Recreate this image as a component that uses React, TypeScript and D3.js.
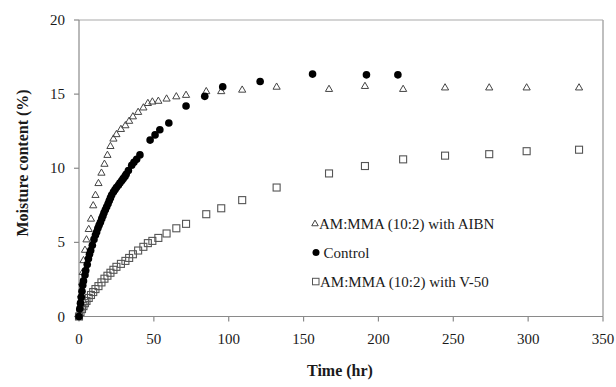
import React from "react";
import * as d3 from "d3";

const xTicks = [0, 50, 100, 150, 200, 250, 300, 350];
const yTicks = [0, 5, 10, 15, 20];

const aibnTime = [0, 1, 1.5, 2, 2.5, 3, 4, 5, 6.5, 8, 9.5, 11, 13, 15, 17, 19, 21, 23, 25, 28, 31, 33.5, 36, 39.5, 43, 46, 49, 53, 58.5, 65, 71.5, 85, 95, 109, 132, 167, 191, 216.5, 244.5, 274, 299, 334];
const aibnValue = [0, 0.8, 1.5, 2.3, 3.0, 3.8, 4.5, 5.2, 5.9, 6.6, 7.5, 8.2, 9.0, 9.7, 10.3, 10.9, 11.5, 12.0, 12.3, 12.65, 12.9, 13.2, 13.5, 13.8, 14.1, 14.4, 14.5, 14.55, 14.7, 14.85, 14.95, 15.2, 15.2, 15.3, 15.5, 15.35, 15.55, 15.35, 15.45, 15.45, 15.45, 15.45];

const controlTime = [0, 0.5, 1, 1.5, 2, 2.5, 3, 4, 4.5, 5.5, 6.3, 7, 7.8, 8.9, 10, 11, 11.8, 12.6, 13.4, 14.3, 15.2, 16, 16.7, 17.6, 18.5, 19.4, 20.2, 21, 21.8, 23, 24, 25, 26.3, 27.3, 28.5, 29.5, 30.7, 31.5, 33, 35.2, 36.7, 38.5, 40.7, 47.5, 50.8, 54, 60, 71.5, 84, 96, 121, 156, 192, 213];
const controlValue = [0, 0.5, 0.9, 1.3, 1.7, 2.1, 2.4, 2.8, 3.1, 3.5, 3.9, 4.2, 4.45, 4.8, 5.2, 5.5, 5.7, 5.95, 6.15, 6.35, 6.6, 6.8, 7.0, 7.2, 7.4, 7.6, 7.8, 8.0, 8.2, 8.4, 8.55, 8.7, 8.85, 9.0, 9.15, 9.3, 9.45, 9.6, 9.85, 10.2, 10.4, 10.6, 10.9, 11.9, 12.25, 12.6, 13.05, 14.2, 14.85, 15.5, 15.85, 16.35, 16.3, 16.3];

const v50Time = [0, 1, 2, 3, 4, 5, 6.5, 8, 9.5, 11, 13, 15, 17, 19, 21, 23, 25, 28, 31, 33.5, 36, 39.5, 43, 46, 49, 53, 58.5, 65, 71.5, 85, 95, 109, 132, 167, 191, 216.5, 244.5, 274, 299, 334];
const v50Value = [0, 0.3, 0.5, 0.7, 0.9, 1.05, 1.25, 1.45, 1.65, 1.85, 2.05, 2.3, 2.55, 2.75, 2.95, 3.15, 3.35, 3.55, 3.75, 3.95, 4.2, 4.45, 4.7, 4.95, 5.1, 5.3, 5.6, 5.95, 6.25, 6.9, 7.3, 7.85, 8.7, 9.65, 10.15, 10.6, 10.85, 10.95, 11.15, 11.25];

const legendLabels = ["AM:MMA (10:2) with AIBN", "Control", "AM:MMA (10:2) with V-50"];
const xTitle = "Time (hr)";
const yTitle = "Moisture content (%)";

const W = 616;
const H = 387;
const font = "'Liberation Serif', 'Times New Roman', serif";

export default function App() {
  const x = d3.scaleLinear().domain([0, 350]).range([79, 603]);
  const y = d3.scaleLinear().domain([0, 20]).range([316.5, 20]);
  const axisColor = "#8a8a8a";

  const tri = (cx: number, cy: number, s = 7.2) => {
    const h = s * 0.866;
    return `M${cx},${cy - h * 0.6}L${cx + s / 2},${cy + h * 0.4}L${cx - s / 2},${cy + h * 0.4}Z`;
  };

  const sq = (cx: number, cy: number, key: string | number) => (
    <rect key={key} x={cx - 3.5} y={cy - 3.5} width={7} height={7} fill="white" fillOpacity={0} stroke="#555" strokeWidth={1.1} />
  );

  return (
    <svg width={W} height={H} style={{ position: "absolute", left: 0, top: 0, background: "white" }} fontFamily={font}>
      {/* frame */}
      <line x1={x(0)} x2={x(350)} y1={y(20)} y2={y(20)} stroke="#aaa" strokeWidth={1.2} />
      <line x1={x(350)} x2={x(350)} y1={y(20)} y2={y(0)} stroke="#aaa" strokeWidth={1.5} />
      <line x1={x(0)} x2={x(350)} y1={y(0)} y2={y(0)} stroke={axisColor} strokeWidth={1.2} />
      <line x1={x(0)} x2={x(0)} y1={y(20)} y2={y(0)} stroke={axisColor} strokeWidth={1.2} />
      {xTicks.map((t) => (
        <g key={"xt" + t}>
          <line x1={x(t)} x2={x(t)} y1={y(0)} y2={y(0) + 5} stroke={axisColor} strokeWidth={1.2} />
          <text x={x(t)} y={344} textAnchor="middle" fontSize={15} fill="#1a1a1a">{t}</text>
        </g>
      ))}
      {yTicks.map((t) => (
        <g key={"yt" + t}>
          <line x1={x(0) - 5} x2={x(0)} y1={y(t)} y2={y(t)} stroke={axisColor} strokeWidth={1.2} />
          <text x={65} y={y(t) + 5} textAnchor="end" fontSize={15} fill="#1a1a1a">{t}</text>
        </g>
      ))}
      <text x={340} y={376} textAnchor="middle" fontSize={16} fontWeight="bold" fill="#1a1a1a">{xTitle}</text>
      <text transform={`translate(28,163) rotate(-90)`} textAnchor="middle" fontSize={16} fontWeight="bold" fill="#1a1a1a">{yTitle}</text>

      {/* V-50 squares */}
      {v50Time.map((t, i) => sq(x(t), y(v50Value[i]), "s" + i))}
      {/* AIBN triangles */}
      {aibnTime.map((t, i) => (
        <path key={"t" + i} d={tri(x(t), y(aibnValue[i]))} fill="none" stroke="#444" strokeWidth={1} />
      ))}
      {/* Control circles */}
      {controlTime.map((t, i) => (
        <circle key={"c" + i} cx={x(t)} cy={y(controlValue[i])} r={3.8} fill="#000" />
      ))}

      {/* legend */}
      <path d={tri(315, 223.5, 6.5)} fill="none" stroke="#444" strokeWidth={1} />
      <text x={319} y={228.5} fontSize={15} fill="#1a1a1a">{legendLabels[0]}</text>
      <circle cx={316} cy={252.5} r={3.5} fill="#000" />
      <text x={323.5} y={257.5} fontSize={15} fill="#1a1a1a">{legendLabels[1]}</text>
      <rect x={312.5} y={278.3} width={6.5} height={6.5} fill="none" stroke="#555" strokeWidth={1} />
      <text x={320} y={286.5} fontSize={15} fill="#1a1a1a">{legendLabels[2]}</text>
    </svg>
  );
}
